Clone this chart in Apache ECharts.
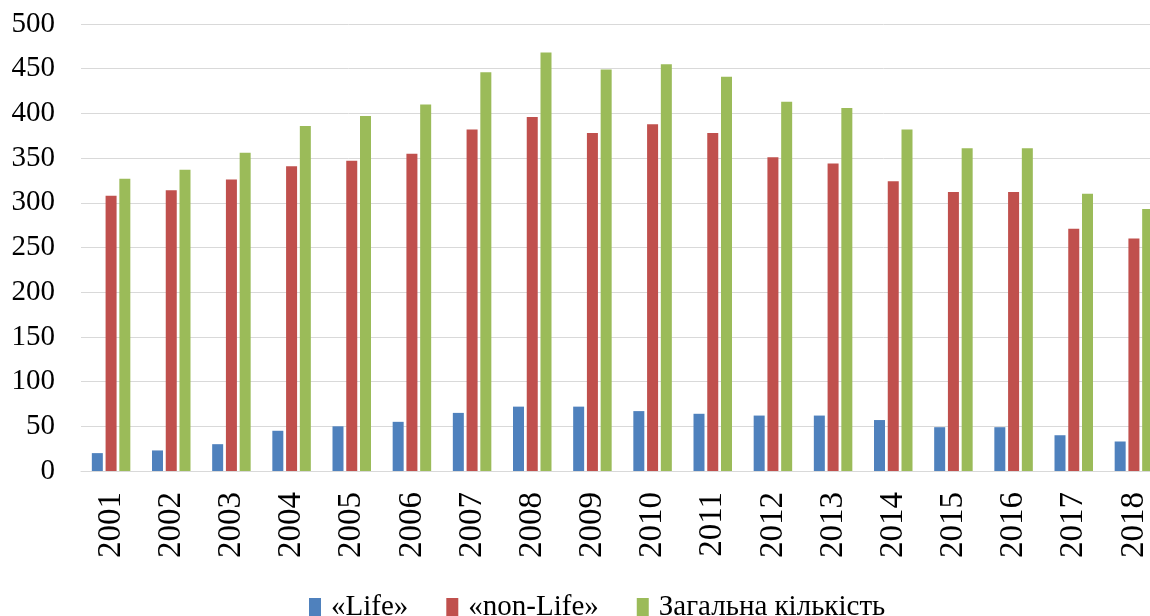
<!DOCTYPE html>
<html><head><meta charset="utf-8">
<script src="https://cdn.jsdelivr.net/npm/echarts@6/dist/echarts.min.js"></script>
<style>html,body{margin:0;padding:0;background:#fff;overflow:hidden}#c{width:1150px;height:616px}</style>
</head><body><div id="c"></div>
<script>
const years = ['2001','2002','2003','2004','2005','2006','2007','2008','2009','2010','2011','2012','2013','2014','2015','2016','2017','2018'];
const life = [20,23,30,45,50,55,65,72,72,67,64,62,62,57,49,49,40,33];
const nonLife = [308,314,326,341,347,355,382,396,378,388,378,351,344,324,312,312,271,260];
const total = [327,337,356,386,397,410,446,468,449,455,441,413,406,382,361,361,310,293];
const seriesNames = ['«Life»','«non-Life»','Загальна кількість'];
const colors = ['#4F81BD','#C0504D','#9BBB59'];
const font = 'Liberation Serif';
const chart = echarts.init(document.getElementById('c'));
chart.setOption({
  animation:false,
  color: colors,
  grid:{left:81, top:24, width:1083, height:447, containLabel:false, outerBoundsMode:'none'},
  legend:{
    top:588, left:304, itemWidth:12, itemHeight:19, itemGap:38,
    icon:'rect',
    textStyle:{fontFamily:font, fontSize:29, color:'#000', padding:[0,0,0,5]},
    data: seriesNames
  },
  xAxis:{
    type:'category', data:years,
    axisLine:{show:true, lineStyle:{color:'#d9d9d9', width:1}},
    axisTick:{show:false},
    axisLabel:{rotate:90, margin:21, fontFamily:font, fontSize:33, color:'#000'}
  },
  yAxis:{
    type:'value', min:0, max:500, interval:50,
    axisLine:{show:false}, axisTick:{show:false},
    splitLine:{lineStyle:{color:'#d9d9d9', width:1}},
    axisLabel:{margin:26, fontFamily:font, fontSize:29, color:'#000'}
  },
  series:[
    {name:seriesNames[0], type:'bar', data:life, barWidth:11, barGap:'25%'},
    {name:seriesNames[1], type:'bar', data:nonLife, barWidth:11, barGap:'25%'},
    {name:seriesNames[2], type:'bar', data:total, barWidth:11, barGap:'25%'}
  ]
});
</script></body></html>
